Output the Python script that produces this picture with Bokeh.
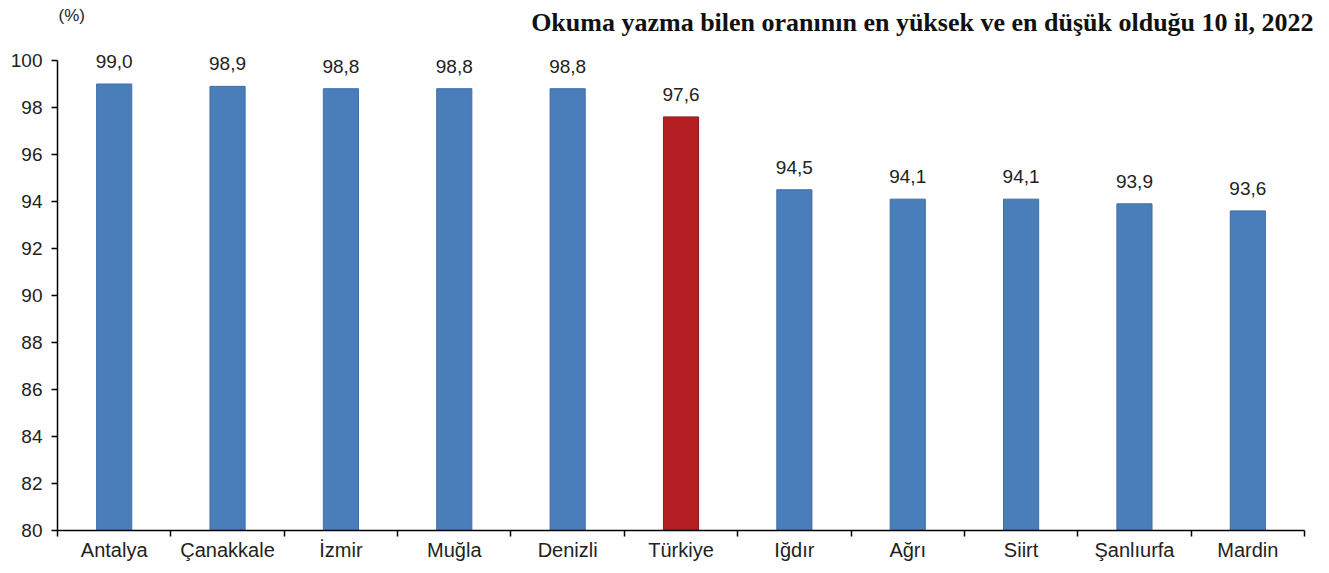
import numpy as np
from bokeh.plotting import figure
from bokeh.models import FixedTicker, Label, Range1d, ColumnDataSource
from bokeh.core.properties import value
from bokeh.embed import file_html
from bokeh.resources import INLINE

cities = ["Antalya", "Çanakkale", "İzmir", "Muğla", "Denizli", "Türkiye",
          "Iğdır", "Ağrı", "Siirt", "Şanlıurfa", "Mardin"]
values = [99.0, 98.9, 98.8, 98.8, 98.8, 97.6, 94.5, 94.1, 94.1, 93.9, 93.6]
value_labels = ["99,0", "98,9", "98,8", "98,8", "98,8", "97,6", "94,5", "94,1", "94,1", "93,9", "93,6"]
y_ticks = [80, 82, 84, 86, 88, 90, 92, 94, 96, 98, 100]
title_text = "Okuma yazma bilen oranının en yüksek ve en düşük olduğu 10 il, 2022"
unit_text = "(%)"

BLUE = "#4A7EBB"
RED = "#B51E22"
colors = [RED if c == "Türkiye" else BLUE for c in cities]
lines = ["#8E1A1D" if c == "Türkiye" else "#3F6EA8" for c in cities]

n = len(cities)
xs = np.arange(n) + 0.5
src = ColumnDataSource(dict(x=xs, top=values, color=colors, line=lines, lab=value_labels))

# layout in pixels
W, H = 1313, 565
LEFT, BOTTOM = 57, 35
frame_h = H - BOTTOM          # 530, frame from canvas top
axis_top_px = 60              # where y=100 sits
ppu = (frame_h - axis_top_px) / (y_ticks[-1] - y_ticks[0])
y_top = y_ticks[-1] + axis_top_px / ppu
frame_w = W - LEFT
cat_px = 1247 / n
x_end = frame_w / cat_px

def y_from_px(px):
    return y_ticks[0] + (frame_h - px) / ppu

p = figure(width=W, height=H, output_backend="svg", toolbar_location=None,
           title_location=None,
           x_range=Range1d(0, x_end), y_range=Range1d(y_ticks[0], y_top),
           min_border_left=LEFT, min_border_right=0, min_border_top=0,
           min_border_bottom=BOTTOM)
p.outline_line_color = None
p.xgrid.grid_line_color = None
p.ygrid.grid_line_color = None
p.background_fill_color = "white"
p.border_fill_color = "white"

p.vbar(x="x", top="top", bottom=y_ticks[0], width=0.31, fill_color="color",
       line_color="line", line_width=1, source=src)
p.text(x="x", y="top", text="lab", source=src, text_align="center", text_baseline="bottom",
       y_offset=-16, text_font_size="19px", text_color="#222222",
       text_font=value("Liberation Sans"))

# x axis: labels at centers, ticks between categories
p.xaxis.bounds = (0, n)
p.xaxis.ticker = FixedTicker(ticks=list(xs), minor_ticks=list(range(n + 1)))
p.xaxis.major_label_overrides = {float(x): c for x, c in zip(xs, cities)}
p.xaxis.major_tick_line_color = None
p.xaxis.minor_tick_line_color = "black"
p.xaxis.minor_tick_line_width = 1.5
p.xaxis.minor_tick_out = 6
p.xaxis.minor_tick_in = 0
p.xaxis.axis_line_width = 1.5
p.xaxis.axis_line_color = "black"
p.xaxis.major_label_text_font = "Liberation Sans"
p.xaxis.major_label_text_font_size = "20px"
p.xaxis.major_label_text_color = "#222222"
p.xaxis.major_label_standoff = 2

p.yaxis.bounds = (y_ticks[0], y_ticks[-1])
p.yaxis.ticker = FixedTicker(ticks=y_ticks)
p.yaxis.minor_tick_line_color = None
p.yaxis.major_tick_out = 6
p.yaxis.major_tick_in = 0
p.yaxis.major_tick_line_width = 1.5
p.yaxis.axis_line_width = 1.5
p.yaxis.axis_line_color = "black"
p.yaxis.major_label_text_font = "Liberation Sans"
p.yaxis.major_label_text_font_size = "19px"
p.yaxis.major_label_text_color = "#222222"
p.yaxis.major_label_standoff = 9

title = Label(x=x_end, y=y_from_px(22), text=title_text, text_align="right",
              text_baseline="middle", text_font="Liberation Serif",
              text_font_size="26px", text_font_style="bold", text_color="#111111")
p.add_layout(title)

unit = Label(x=1 / cat_px, y=y_from_px(15), text=unit_text, text_align="left",
             text_baseline="middle", text_font="Liberation Sans",
             text_font_size="17px", text_color="#222222")
p.add_layout(unit)

open("out.html", "w").write(file_html(p, INLINE))
